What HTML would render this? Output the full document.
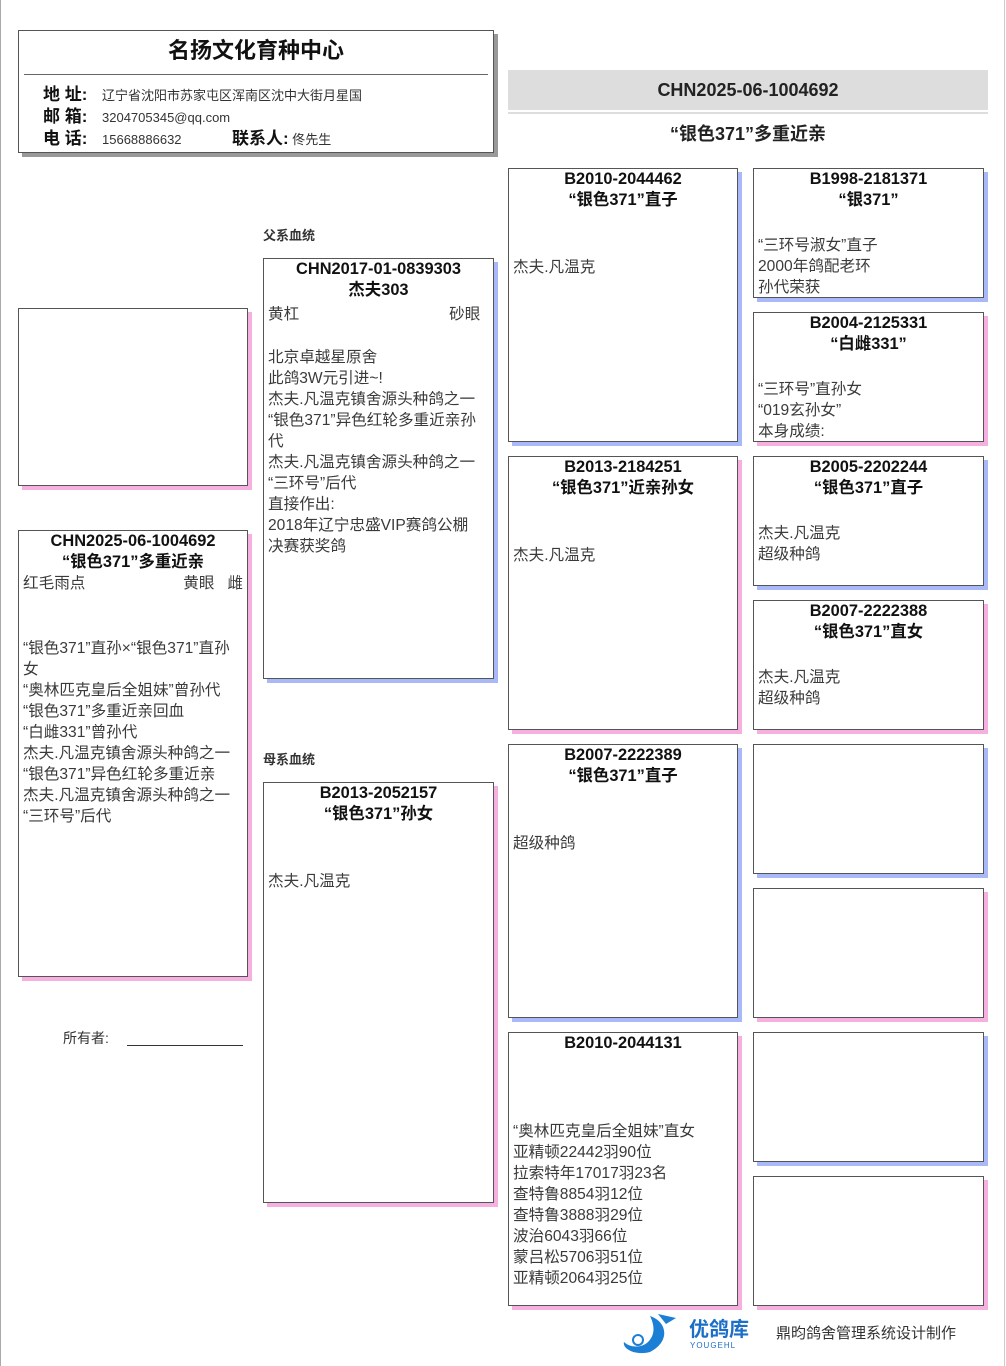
<!DOCTYPE html>
<html><head><meta charset="utf-8"><style>
body{margin:0;width:1006px;height:1366px;position:relative;background:#fff;font-family:"Liberation Sans","Noto Sans CJK SC",sans-serif;overflow:hidden}
.a{position:absolute}
.b{position:absolute;border:1px solid #555;background:#fff;box-sizing:border-box;padding:0 4px;color:#3a3a3a;font-size:15.6px;line-height:21px}
.m{box-shadow:4px 4px 0 #a9b8f7}
.f{box-shadow:4px 4px 0 #f5b0e0}
.t{font-weight:bold;color:#111;text-align:center;font-size:16.4px;line-height:21px}
.lbl{font-size:13px;color:#333;font-weight:bold}
.k{display:inline-block;width:59px;font-weight:bold;font-size:17px;color:#111}
.bd{padding-top:3px}
</style></head><body>
<div class="a" style="left:0;top:0;width:1px;height:1366px;background:#aaa"></div>
<div class="a" style="left:1004px;top:0;width:1px;height:1366px;background:#ccc"></div>

<div class="b" style="left:18px;top:30px;width:476px;height:123px;box-shadow:4px 4px 0 #999;padding:0">
<div class="t" style="font-size:22px;margin-top:5px;line-height:30px">名扬文化育种中心</div>
<div style="position:absolute;left:5px;right:5px;top:43px;height:1px;background:#666"></div>
<div style="position:absolute;left:24px;top:53px;font-size:13px;line-height:21px;color:#333;white-space:nowrap">
<div><span class="k">地 址:</span>辽宁省沈阳市苏家屯区浑南区沈中大街月星国</div>
<div><span class="k">邮 箱:</span>3204705345@qq.com</div>
<div><span class="k">电 话:</span><span style="display:inline-block;width:130px">15668886632</span><b style="font-size:17px;color:#111">联系人:</b> 佟先生</div>
</div></div>

<div class="a" style="left:508px;top:70px;width:480px;height:40px;background:#ddd;text-align:center;font-weight:bold;font-size:18px;line-height:40px;color:#222">CHN2025-06-1004692</div>
<div class="a" style="left:508px;top:112px;width:480px;height:2px;background:#ddd"></div>
<div class="a" style="left:508px;top:121px;width:480px;text-align:center;font-weight:bold;font-size:18px;line-height:26px;color:#222">“银色371”多重近亲</div>

<div class="b f" style="left:18px;top:308px;width:230px;height:178px"></div>

<div class="b f" style="left:18px;top:530px;width:230px;height:447px">
<div class="t">CHN2025-06-1004692</div><div class="t">“银色371”多重近亲</div>
<div>红毛雨点<span style="float:right">黄眼 &nbsp; 雌</span></div>
<div style="margin-top:44px">“银色371”直孙×“银色371”直孙女<br>“奥林匹克皇后全姐妹”曾孙代<br>“银色371”多重近亲回血<br>“白雌331”曾孙代<br>杰夫.凡温克镇舍源头种鸽之一<br>“银色371”异色红轮多重近亲<br>杰夫.凡温克镇舍源头种鸽之一<br>“三环号”后代</div>
</div>

<div class="a" style="left:63px;top:1028px;font-size:14px;color:#333">所有者:</div>
<div class="a" style="left:127px;top:1045px;width:116px;height:1px;background:#333"></div>

<div class="a lbl" style="left:263px;top:225px">父系血统</div>
<div class="b m" style="left:263px;top:258px;width:231px;height:421px">
<div class="t">CHN2017-01-0839303</div><div class="t">杰夫303</div>
<div class="bd">黄杠<span style="float:right">砂眼 &nbsp; </span></div>
<div style="margin-top:22px">北京卓越星原舍<br>此鸽3W元引进~!<br>杰夫.凡温克镇舍源头种鸽之一<br>“银色371”异色红轮多重近亲孙代<br>杰夫.凡温克镇舍源头种鸽之一<br>“三环号”后代<br>直接作出:<br>2018年辽宁忠盛VIP赛鸽公棚<br>决赛获奖鸽</div>
</div>

<div class="a lbl" style="left:263px;top:749px">母系血统</div>
<div class="b f" style="left:263px;top:782px;width:231px;height:421px">
<div class="t">B2013-2052157</div><div class="t">“银色371”孙女</div>
<div style="margin-top:46px">杰夫.凡温克</div>
</div>

<div class="b m" style="left:508px;top:168px;width:230px;height:274px"><div class="t">B2010-2044462</div><div class="t">“银色371”直子</div><div style="margin-top:46px">杰夫.凡温克</div></div>
<div class="b f" style="left:508px;top:456px;width:230px;height:274px"><div class="t">B2013-2184251</div><div class="t">“银色371”近亲孙女</div><div style="margin-top:46px">杰夫.凡温克</div></div>
<div class="b m" style="left:508px;top:744px;width:230px;height:274px"><div class="t">B2007-2222389</div><div class="t">“银色371”直子</div><div style="margin-top:46px">超级种鸽</div></div>
<div class="b f" style="left:508px;top:1032px;width:230px;height:274px"><div class="t">B2010-2044131</div><div style="margin-top:67px">“奥林匹克皇后全姐妹”直女<br>亚精顿22442羽90位<br>拉索特年17017羽23名<br>查特鲁8854羽12位<br>查特鲁3888羽29位<br>波治6043羽66位<br>蒙吕松5706羽51位<br>亚精顿2064羽25位</div></div>

<div class="b m" style="left:753px;top:168px;width:231px;height:130px"><div class="t">B1998-2181371</div><div class="t">“银371”</div><div style="margin-top:24px">“三环号淑女”直子<br>2000年鸽配老环<br>孙代荣获</div></div>
<div class="b f" style="left:753px;top:312px;width:231px;height:130px"><div class="t">B2004-2125331</div><div class="t">“白雌331”</div><div style="margin-top:24px">“三环号”直孙女<br>“019玄孙女”<br>本身成绩:</div></div>
<div class="b m" style="left:753px;top:456px;width:231px;height:130px"><div class="t">B2005-2202244</div><div class="t">“银色371”直子</div><div style="margin-top:24px">杰夫.凡温克<br>超级种鸽</div></div>
<div class="b f" style="left:753px;top:600px;width:231px;height:130px"><div class="t">B2007-2222388</div><div class="t">“银色371”直女</div><div style="margin-top:24px">杰夫.凡温克<br>超级种鸽</div></div>
<div class="b m" style="left:753px;top:744px;width:231px;height:130px"></div>
<div class="b f" style="left:753px;top:888px;width:231px;height:130px"></div>
<div class="b m" style="left:753px;top:1032px;width:231px;height:130px"></div>
<div class="b f" style="left:753px;top:1176px;width:231px;height:130px"></div>

<svg class="a" style="left:620px;top:1312px" width="64" height="42" viewBox="0 0 64 42">
<path d="M30 4 C48 10 50 30 30 40 C14 44 2 36 4 30 C10 36 22 36 28 30 C36 22 34 12 30 4Z" fill="#1c7fd6"/>
<path d="M38 2 L56 6 L46 12Z" fill="#1c7fd6"/>
<circle cx="18" cy="28" r="5" fill="none" stroke="#1c7fd6" stroke-width="2"/>
</svg>
<div class="a" style="left:689px;top:1318px;font-size:20px;font-weight:bold;color:#1c6fc6;line-height:24px">优鸽库</div>
<div class="a" style="left:690px;top:1341px;font-size:8px;color:#1c6fc6;letter-spacing:1px">YOUGEHL</div>
<div class="a" style="left:776px;top:1322px;font-size:15px;color:#333">鼎昀鸽舍管理系统设计制作</div>
</body></html>
